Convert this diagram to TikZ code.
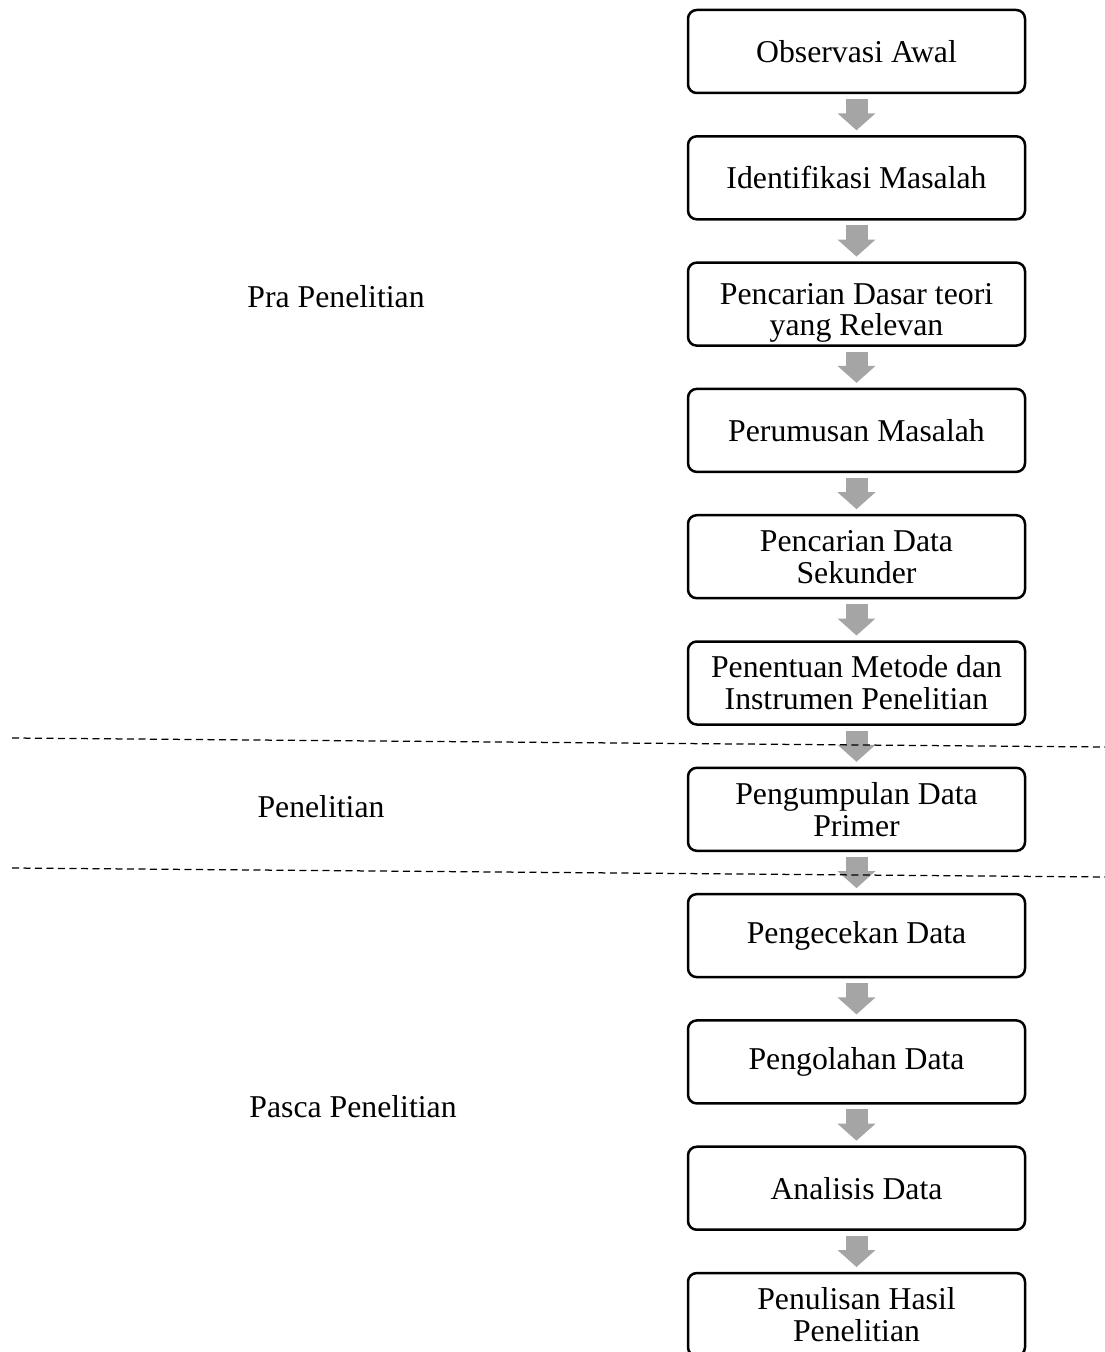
\documentclass[tikz,border=0pt]{standalone}
\usepackage{fontspec}
\setmainfont{Liberation Serif}
\usetikzlibrary{positioning,arrows.meta}

\definecolor{abuPanah}{HTML}{A5A5A5}

\tikzset{
  tahap/.style={draw, line width=1pt, rounded corners=3.5pt,
    minimum width=134.8pt, minimum height=33.2pt, inner sep=2pt,
    outer sep=0pt, align=center, font=\fontsize{12.7}{12.8}\selectfont},
  panah/.style={abuPanah, line width=8.8pt,
    -{Triangle[width=14.8pt,length=6.8pt]},
    shorten <=2.4pt, shorten >=2.4pt},
  batas/.style={line width=0.5pt, dash pattern=on 2.8pt off 1.8pt},
  fase/.style={font=\fontsize{12.7}{12.8}\selectfont}
}

\begin{document}
\begin{tikzpicture}[x=0.4pt, y=-0.4pt, node distance=17.32pt]
  \useasboundingbox (0,0) rectangle (1105,1352);
  % kotak tahapan
  \node[tahap] (b1) at (856.5,51.5) {Observasi Awal};
  \node[tahap, below=of b1] (b2) {Identifikasi Masalah};
  \node[tahap, below=of b2, font=\fontsize{12.7}{12.2}\selectfont,
    inner ysep=0.5pt] (b3) {\rule{0pt}{15.5pt}Pencarian Dasar teori\\yang Relevan};
  \node[tahap, below=of b3] (b4) {Perumusan Masalah};
  \node[tahap, below=of b4] (b5) {Pencarian Data\\Sekunder};
  \node[tahap, below=of b5] (b6) {Penentuan Metode dan\\Instrumen Penelitian};
  \node[tahap, below=of b6] (b7) {Pengumpulan Data\\Primer};
  \node[tahap, below=of b7] (b8) {Pengecekan Data};
  \node[tahap, below=of b8] (b9) {Pengolahan Data};
  \node[tahap, below=of b9] (b10) {Analisis Data};
  \node[tahap, below=of b10] (b11) {Penulisan Hasil\\Penelitian};
  % panah
  \foreach \i [evaluate=\i as \j using int(\i+1)] in {1,...,10} {
    \draw[panah] (b\i) -- (b\j);
  }
  % garis batas fase
  \draw[batas] (12,738) -- (1105,747);
  \draw[batas] (12,868) -- (1105,877);
  % nama fase
  \node[fase] (pra) at (336,297) {Pra Penelitian};
  \node[fase] (pen) at (321,807) {Penelitian};
  \node[fase] (pasca) at (353,1107) {Pasca Penelitian};
\end{tikzpicture}
\end{document}
